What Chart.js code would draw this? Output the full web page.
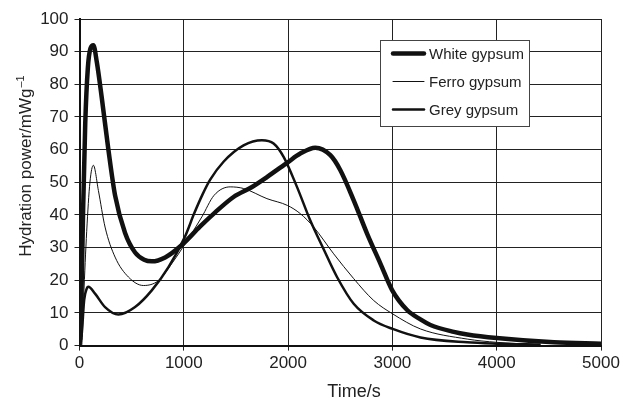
<!doctype html>
<html>

<head>
    <title>Hydration power</title>
    <script src="https://cdn.jsdelivr.net/npm/chart.js"></script>
</head>

<style>
    body {
        margin: 0;
        background: white;
    }

    #box {
        width: 625px;
        height: 400px;
    }
</style>

<body>
    <div id="box">
        <canvas id="grafico"></canvas>
    </div>

    <script>
        // valores
        var timeWhite = [0, 15, 35, 55, 80, 105, 133, 165, 213, 277, 341, 437, 533, 620, 693, 821, 981, 1157, 1301, 1477, 1650, 1797, 2000, 2117, 2261, 2405, 2501, 2629, 2757, 2885, 2997, 3141, 3269, 3365, 3589, 3717, 4000, 4549, 5000];
        var powerWhite = [0, 10, 42, 68, 85, 91, 92, 87, 76, 60, 46, 34.5, 28.5, 26.3, 25.8, 27, 30.8, 36.5, 40.8, 45.5, 48.5, 51.6, 56.2, 58.8, 60.6, 58.3, 53.7, 44.5, 34.3, 25.1, 17, 10.9, 8, 6.3, 4.2, 3.4, 2.3, 1.0, 0.6];

        var timeFerro = [0, 20, 40, 69, 100, 133, 181, 245, 341, 469, 613, 757, 885, 1013, 1173, 1290, 1445, 1573, 1797, 1995, 2117, 2245, 2437, 2629, 2821, 3003, 3269, 3717, 4000, 4420];
        var powerFerro = [0, 0, 15, 35, 50, 55.2, 47.5, 36.3, 27.1, 21, 18.4, 19.9, 25.1, 31.2, 39.4, 46, 48.6, 48.1, 45, 42.9, 40.4, 36.3, 28.1, 20.5, 13.8, 9.7, 5.1, 2.0, 1.0, 0.3];

        var timeGrey = [0, 20, 45, 70, 85, 149, 245, 373, 533, 693, 853, 1013, 1100, 1180, 1253, 1381, 1573, 1749, 1861, 1957, 2085, 2213, 2341, 2469, 2629, 2821, 3003, 3269, 3717, 4000, 4420];
        var powerGrey = [0, 3, 14, 17.5, 18, 15.9, 11.8, 9.5, 11.8, 16.9, 24, 33.5, 40.5, 46.3, 50.8, 56.3, 61.3, 62.9, 61.9, 57.8, 48.6, 38.3, 29.5, 21, 12.8, 7.7, 5.1, 2.5, 1.0, 0.6, 0.3];

        var xTicks = [0, 1000, 2000, 3000, 4000, 5000];
        var yTicks = [0, 10, 20, 30, 40, 50, 60, 70, 80, 90, 100];

        function pontos(tempos, valores) {
            return tempos.map((t, i) => ({ x: t, y: valores[i] }));
        }

        var fonte = '"Liberation Sans", Arial, sans-serif';
        Chart.defaults.font.family = fonte;
        Chart.defaults.color = '#222';

        // titulos dos eixos e legenda desenhados a mao
        var extras = {
            id: 'extras',
            afterDraw(chart) {
                var ctx = chart.ctx;
                ctx.save();

                // legenda
                var x0 = 380, y0 = 40, w = 149, h = 86;
                ctx.fillStyle = 'white';
                ctx.fillRect(x0, y0, w, h);
                ctx.strokeStyle = '#444';
                ctx.lineWidth = 1;
                ctx.strokeRect(x0 + 0.5, y0 + 0.5, w, h);
                ctx.font = '15px ' + fonte;
                ctx.textBaseline = 'middle';
                chart.data.datasets.forEach((ds, i) => {
                    var y = 53.5 + i * 28;
                    ctx.beginPath();
                    ctx.strokeStyle = ds.borderColor;
                    ctx.lineWidth = ds.borderWidth;
                    ctx.lineCap = 'round';
                    ctx.moveTo(393, y);
                    ctx.lineTo(424, y);
                    ctx.stroke();
                    ctx.fillStyle = '#222';
                    ctx.fillText(ds.label, 429, y + 1);
                });

                // titulo x
                ctx.fillStyle = '#222';
                ctx.font = '18px ' + fonte;
                ctx.textAlign = 'center';
                ctx.textBaseline = 'alphabetic';
                ctx.fillText('Time/s', 354, 397);

                // titulo y com expoente
                var principal = 'Hydration power/mWg';
                var expoente = '\u20131';
                ctx.font = '17px ' + fonte;
                var w1 = ctx.measureText(principal).width;
                ctx.font = '11px ' + fonte;
                var w2 = ctx.measureText(expoente).width;
                ctx.translate(31, 166.5);
                ctx.rotate(-Math.PI / 2);
                ctx.textAlign = 'left';
                ctx.font = '17px ' + fonte;
                ctx.fillText(principal, -(w1 + w2) / 2, 0);
                ctx.font = '11px ' + fonte;
                ctx.fillText(expoente, -(w1 + w2) / 2 + w1 + 1, -7);

                ctx.restore();
            }
        };

        var grafico = new Chart(document.getElementById('grafico').getContext('2d'), {
            type: 'line',
            data: {
                datasets: [{
                    label: 'White gypsum',
                    data: pontos(timeWhite, powerWhite),
                    borderColor: '#111',
                    borderWidth: 4.5
                }, {
                    label: 'Ferro gypsum',
                    data: pontos(timeFerro, powerFerro),
                    borderColor: '#111',
                    borderWidth: 1
                }, {
                    label: 'Grey gypsum',
                    data: pontos(timeGrey, powerGrey),
                    borderColor: '#111',
                    borderWidth: 2.5
                }]
            },
            options: {
                responsive: true,
                maintainAspectRatio: false,
                animation: false,
                layout: {
                    padding: { top: 19, right: 24, bottom: 23, left: 4 }
                },
                elements: {
                    point: { radius: 0 },
                    line: { cubicInterpolationMode: 'monotone' }
                },
                plugins: {
                    legend: { display: false },
                    tooltip: { enabled: false }
                },
                scales: {
                    x: {
                        type: 'linear',
                        min: 0,
                        max: 5000,
                        afterBuildTicks: (s) => { s.ticks = xTicks.map(v => ({ value: v })); },
                        ticks: { font: { size: 17 }, padding: 3, maxRotation: 0, callback: (v) => String(v) },
                        grid: { color: '#222', lineWidth: 1, tickLength: 5 },
                        border: { color: '#111', width: 2 }
                    },
                    y: {
                        min: 0,
                        max: 100,
                        afterBuildTicks: (s) => { s.ticks = yTicks.map(v => ({ value: v })); },
                        afterFit: (s) => { s.width = 75.5; },
                        ticks: { font: { size: 17 }, padding: 6, callback: (v) => String(v) },
                        grid: { color: '#222', lineWidth: 1, tickLength: 5 },
                        border: { color: '#111', width: 2 }
                    }
                }
            },
            plugins: [extras]
        });
    </script>
</body>

</html>
